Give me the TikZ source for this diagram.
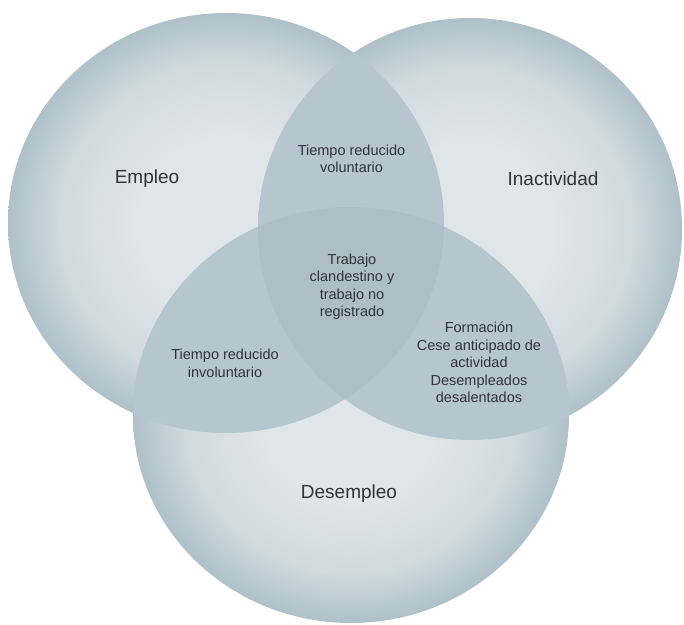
\documentclass[tikz,border=0pt]{standalone}
\usepackage{fontspec}
\setmainfont{Liberation Sans}
\definecolor{circlight}{RGB}{223,230,234}
\definecolor{circmid}{RGB}{208,218,223}
\definecolor{circedge}{RGB}{174,192,201}
\definecolor{lenscol}{RGB}{182,198,206}
\definecolor{corecol}{RGB}{173,190,199}
\definecolor{txtcol}{RGB}{48,52,56}
\pgfdeclareradialshading{vennball}{\pgfpoint{0bp}{0bp}}{color(0bp)=(circlight); color(10bp)=(circlight); color(19bp)=(circmid); color(25bp)=(circedge); color(50bp)=(circedge)}
\tikzset{
  biglabel/.style={font=\fontsize{19}{22}\selectfont, text=txtcol, inner sep=0pt, anchor=base},
  smalllabel/.style={font=\fontsize{14.5}{17.5}\selectfont, text=txtcol, align=center, inner sep=0pt},
  vennshade/.style={shading=vennball}
}
\begin{document}
\begin{tikzpicture}[x=1pt,y=1pt]
\useasboundingbox[fill=white] (0,0) rectangle (684,624);
% circles
\shade[vennshade] (226,401) ellipse [x radius=218pt, y radius=210pt];
\shade[vennshade] (470,395) ellipse [x radius=212pt, y radius=211pt];
\shade[vennshade] (351,209) ellipse [x radius=218pt, y radius=208pt];
% pairwise overlaps
\begin{scope}
  \clip (226,401) ellipse [x radius=218pt, y radius=210pt];
  \fill[lenscol] (470,395) ellipse [x radius=212pt, y radius=211pt];
  \fill[lenscol] (351,209) ellipse [x radius=218pt, y radius=208pt];
\end{scope}
\begin{scope}
  \clip (470,395) ellipse [x radius=212pt, y radius=211pt];
  \fill[lenscol] (351,209) ellipse [x radius=218pt, y radius=208pt];
\end{scope}
% triple overlap
\begin{scope}
  \clip (226,401) ellipse [x radius=218pt, y radius=210pt];
  \clip (470,395) ellipse [x radius=212pt, y radius=211pt];
  \fill[corecol] (351,209) ellipse [x radius=218pt, y radius=208pt];
\end{scope}
% labels
\node[biglabel] (empleo) at (147,440) {Empleo};
\node[biglabel] (inact) at (553,438) {Inactividad};
\node[biglabel] (desemp) at (349,126) {Desempleo};
\node[smalllabel] (vol) at (351.5,465.1) {Tiempo reducido\\voluntario};
\node[smalllabel] (clan) at (352,337.3) {Trabajo\\clandestino y\\trabajo no\\registrado};
\node[smalllabel] (invol) at (225,260.8) {Tiempo reducido\\involuntario};
\node[smalllabel] (form) at (479,261.5) {Formación\\Cese anticipado de\\actividad\\Desempleados\\desalentados};
\end{tikzpicture}
\end{document}
